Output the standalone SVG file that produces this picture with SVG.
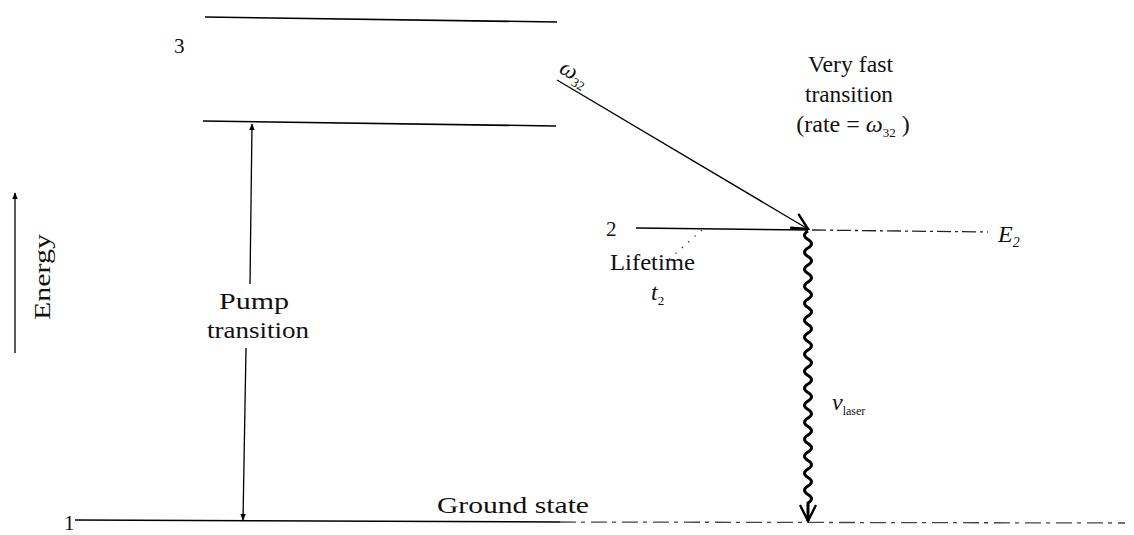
<svg xmlns="http://www.w3.org/2000/svg" width="1134" height="535" viewBox="0 0 1134 535">
  <style>
    .lvl { stroke: #000; stroke-width: 1.6; fill: none; }
    .thin { stroke: #000; stroke-width: 1.3; fill: none; }
    .dashdot { stroke: #222; stroke-width: 1.3; fill: none; stroke-dasharray: 14 4 3 4; }
    .broken { stroke: #444; stroke-width: 1.3; fill: none; stroke-dasharray: 16 5 4 6; }
    .dots { stroke: #333; stroke-width: 1.2; fill: none; stroke-dasharray: 1.5 7; }
    .wave { stroke: #000; stroke-width: 3; fill: none; }
    text { font-family: "Liberation Serif", "Times New Roman", serif; fill: #111; }
    .lbl { font-size: 24px; }
    .num { font-size: 21px; }
    .it { font-style: italic; }
  </style>
  <defs>
    <marker id="solid" viewBox="0 0 10 10" refX="9" refY="5" markerWidth="7" markerHeight="9" orient="auto" markerUnits="userSpaceOnUse">
      <path d="M0,1 L10,5 L0,9 Z" fill="#000"/>
    </marker>
    <marker id="open" viewBox="0 0 20 20" refX="18" refY="10" markerWidth="20" markerHeight="20" orient="auto" markerUnits="userSpaceOnUse">
      <path d="M2,2 L18,10 L2,18" fill="none" stroke="#000" stroke-width="2.4"/>
    </marker>
  </defs>

  <g id="level3">
    <path class="lvl" d="M205,17 L557,22"/>
    <path class="lvl" d="M203,121 L556,126"/>
    <text class="num" x="174" y="53">3</text>
  </g>

  <g id="level2">
    <path class="lvl" d="M636,228 L808,230"/>
    <path class="dashdot" d="M812,230 L988,232"/>
    <text class="num" x="606" y="236">2</text>
    <text class="lbl it" x="998" y="242">E<tspan font-size="14" dy="5">2</tspan></text>
  </g>

  <g id="level1">
    <path class="lvl" d="M75,520 L560,522"/>
    <path class="broken" d="M560,522 L1125,523"/>
    <text class="num" x="64" y="530">1</text>
    <text class="lbl" font-size="25" x="437" y="513" textLength="152" lengthAdjust="spacingAndGlyphs">Ground state</text>
  </g>

  <g id="energy-axis">
    <path class="thin" d="M15,353 L15,193" marker-end="url(#solid)"/>
    <text class="lbl" font-size="26" transform="translate(50,320) rotate(-90)" textLength="86" lengthAdjust="spacingAndGlyphs">Energy</text>
  </g>

  <g id="pump-label">
    <text class="lbl" font-size="25" x="219" y="309" textLength="70" lengthAdjust="spacingAndGlyphs">Pump</text>
    <text class="lbl" font-size="25" x="207" y="338" textLength="102" lengthAdjust="spacingAndGlyphs">transition</text>
  </g>

  <g id="fast-label">
    <text class="lbl" x="808" y="72" textLength="85" lengthAdjust="spacingAndGlyphs">Very fast</text>
    <text class="lbl" x="805" y="102" textLength="88" lengthAdjust="spacingAndGlyphs">transition</text>
    <text class="lbl" x="853" y="132" text-anchor="middle">(rate = <tspan class="it">ω</tspan><tspan font-size="13" dy="5">32</tspan><tspan dy="-5"> )</tspan></text>
    <text class="lbl it" transform="translate(558,72) rotate(30)">ω<tspan font-size="13" dy="5" font-style="normal">32</tspan></text>
  </g>

  <g id="lifetime-label">
    <text class="lbl" x="610" y="270" textLength="85" lengthAdjust="spacingAndGlyphs">Lifetime</text>
    <text class="lbl it" x="651" y="300">t<tspan font-size="13" dy="5" font-style="normal">2</tspan></text>
  </g>

  <g id="laser-label">
    <text class="lbl it" x="832" y="410">ν<tspan font-size="12" dy="5" font-style="normal">laser</tspan></text>
  </g>

  <g id="connectors">
    <path class="thin" d="M246,348 L243,520" marker-end="url(#solid)"/>
    <path class="thin" d="M250,284 L252,124" marker-end="url(#solid)"/>
    <path class="thin" d="M557,80 L808,229" marker-end="url(#open)"/>
    <path class="dots" d="M702,230 L666,262"/>
    <path class="wave" d="M808,231 q-7,4.25 0,8.5 q7,4.25 0,8.5 q-7,4.25 0,8.5 q7,4.25 0,8.5 q-7,4.25 0,8.5 q7,4.25 0,8.5 q-7,4.25 0,8.5 q7,4.25 0,8.5 q-7,4.25 0,8.5 q7,4.25 0,8.5 q-7,4.25 0,8.5 q7,4.25 0,8.5 q-7,4.25 0,8.5 q7,4.25 0,8.5 q-7,4.25 0,8.5 q7,4.25 0,8.5 q-7,4.25 0,8.5 q7,4.25 0,8.5 q-7,4.25 0,8.5 q7,4.25 0,8.5 q-7,4.25 0,8.5 q7,4.25 0,8.5 q-7,4.25 0,8.5 q7,4.25 0,8.5 q-7,4.25 0,8.5 q7,4.25 0,8.5 q-7,4.25 0,8.5 q7,4.25 0,8.5 q-7,4.25 0,8.5 q7,4.25 0,8.5 q-7,4.25 0,8.5 q7,4.25 0,8.5 L808,521" marker-end="url(#open)"/>
  </g>
</svg>
